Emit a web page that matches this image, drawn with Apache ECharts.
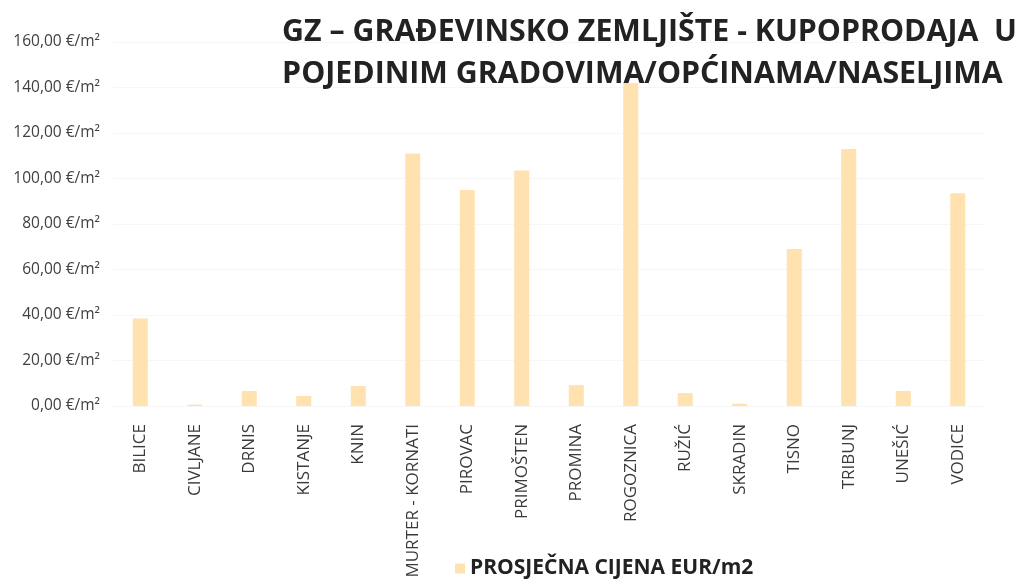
<!DOCTYPE html>
<html>
<head>
<meta charset="utf-8">
<script src="https://cdn.jsdelivr.net/npm/echarts@6/dist/echarts.min.js"></script>
<style>
  html, body { margin: 0; padding: 0; background: #fff; }
  #chart { width: 1024px; height: 584px; }
</style>
</head>
<body>
<div id="chart"></div>
<script>
// categories and values
const places = [
  "BILICE", "CIVLJANE", "DRNIS", "KISTANJE", "KNIN", "MURTER - KORNATI",
  "PIROVAC", "PRIMOŠTEN", "PROMINA", "ROGOZNICA", "RUŽIĆ", "SKRADIN",
  "TISNO", "TRIBUNJ", "UNEŠIĆ", "VODICE"
];
const avgPrice = [38.5, 0.6, 6.6, 4.4, 8.8, 111, 95, 103.5, 9.2, 142, 5.7, 1.0, 69, 113, 6.6, 93.5];
const seriesName = "PROSJEČNA CIJENA EUR/m2";

function chartSetup(container) {
  let myChart = echarts.init(container),
    option;
  option = {
    animation: false,
    title: {
      text: "GZ – GRAĐEVINSKO ZEMLJIŠTE - KUPOPRODAJA  U\nPOJEDINIM GRADOVIMA/OPĆINAMA/NASELJIMA",
      right: 2,
      top: 6,
      textStyle: {
        fontFamily: "Open Sans",
        fontWeight: "bold",
        fontSize: 30.3,
        lineHeight: 42,
        color: "#222"
      }
    },
    legend: {
      bottom: 0,
      left: 450,
      itemWidth: 10,
      itemHeight: 10,
      itemGap: 6,
      icon: "rect",
      textStyle: {
        fontFamily: "Open Sans",
        fontWeight: "bold",
        fontSize: 21,
        color: "#222"
      }
    },
    grid: {
      left: 113,
      right: 39,
      top: 42,
      bottom: 178
    },
    xAxis: {
      type: "category",
      data: places,
      axisLine: { show: false },
      axisTick: { show: false },
      axisLabel: {
        rotate: 90,
        margin: 18,
        fontFamily: "Open Sans",
        fontSize: 17,
        color: "#3a3a3a",
        interval: 0
      }
    },
    yAxis: {
      type: "value",
      min: 0,
      max: 160,
      interval: 20,
      axisLabel: {
        fontFamily: "Open Sans",
        fontSize: 15.5,
        color: "#404040",
        margin: 13,
        formatter: v => v.toFixed(2).replace(".", ",") + " €/m²"
      },
      splitLine: { lineStyle: { color: "#f6f6f6" } }
    },
    series: [
      {
        name: seriesName,
        type: "bar",
        barWidth: 15,
        itemStyle: { color: "#ffe2b0" },
        data: avgPrice
      }
    ]
  };
  if (option && typeof option === "object") myChart.setOption(option);
}

chartSetup(document.getElementById("chart"));
</script>
</body>
</html>
